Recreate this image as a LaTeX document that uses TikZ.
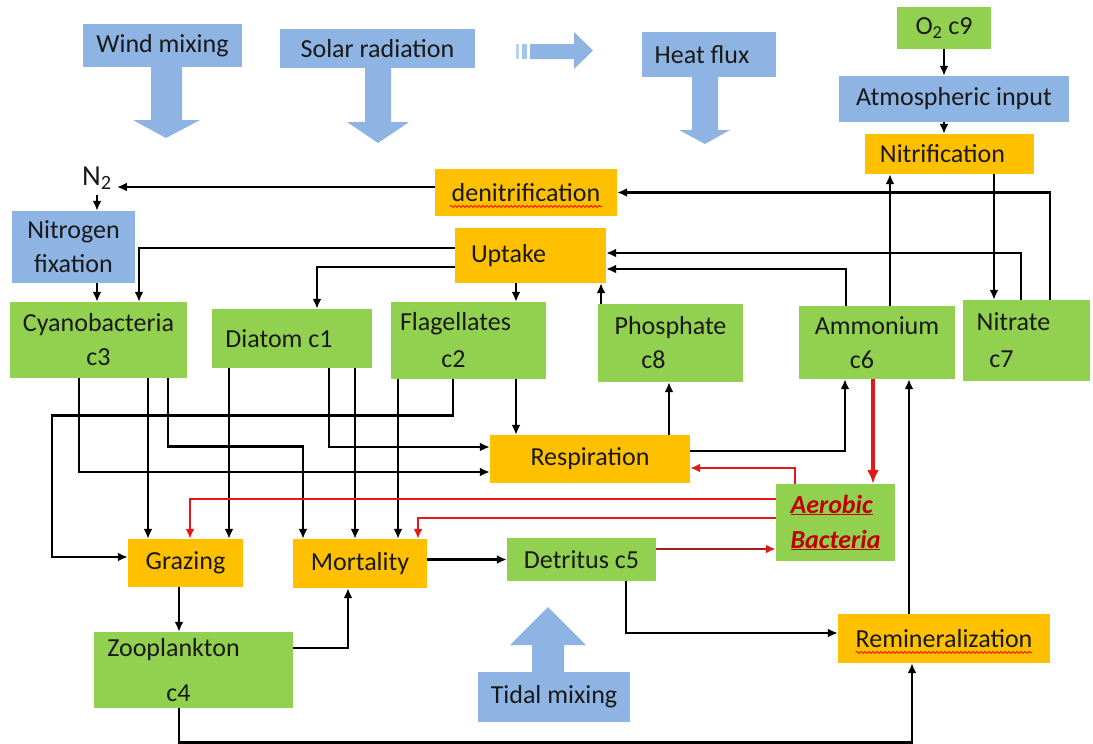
\documentclass[tikz,border=0pt]{standalone}
\usepackage{fontspec}
\setmainfont{Carlito}
\usetikzlibrary{arrows.meta, decorations.pathmorphing}
\definecolor{BoxGreen}{RGB}{146, 208, 80}
\definecolor{BoxOrange}{RGB}{255, 192, 0}
\definecolor{BoxBlue}{RGB}{142, 180, 227}
\definecolor{TextDark}{RGB}{25, 25, 25}
\definecolor{LinkRed}{RGB}{228, 24, 24}
\definecolor{LinkDarkRed}{RGB}{165, 30, 30}
\definecolor{BactRed}{RGB}{192, 0, 0}
\tikzset{
  comp/.style={rectangle, inner sep=2pt, align=center, text=TextDark,
    font=\fontsize{26}{34}\selectfont},
  pool/.style={comp, fill=BoxGreen},
  proc/.style={comp, fill=BoxOrange},
  forcing/.style={comp, fill=BoxBlue},
  flow/.style={-{Latex[length=10pt, width=9pt]}, line width=2.7pt, black},
  redflow/.style={-{Latex[length=10pt, width=9pt]}, line width=2.3pt, LinkRed},
  heavy/.style={-{Latex[length=14pt, width=12pt]}, line width=4pt, LinkRed},
  block/.style={fill=BoxBlue},
  squiggle/.style={draw=red, line width=0.8pt, decorate,
    decoration={snake, amplitude=1pt, segment length=4pt}},
}

\begin{document}
\begin{tikzpicture}[x=1pt, y=-1pt]
    \fill[white] (0,0) rectangle (1093,744);
    \useasboundingbox (0,0) rectangle (1093,744);

    \node[forcing, minimum width=159pt, minimum height=43pt] (wind) at (162.5,45.5) {Wind mixing};
    \node[forcing, minimum width=195pt, minimum height=39pt] (solar) at (377.5,48.5) {Solar radiation};
    \node[forcing, minimum width=134pt, minimum height=45pt] (heat) at (709,54.5) {Heat flux\hspace*{14pt}};
    \node[pool, minimum width=94pt, minimum height=42pt] (o2) at (944,28) {O\textsubscript{2} c9};
    \node[forcing, minimum width=230pt, minimum height=46pt] (atm) at (954,99) {Atmospheric input};
    \node[proc, minimum width=169pt, minimum height=40pt] (nitrif) at (949.5,154) {Nitrification\hspace*{14pt}};
    \node[proc, minimum width=182pt, minimum height=47pt] (denit) at (526,192.5) {denitrification};
    \node[comp, inner sep=5pt, font=\fontsize{29}{34}\selectfont] (n2) at (97,178) {N\textsubscript{2}};
    \node[forcing, minimum width=123pt, minimum height=72pt] (nfix) at (73.5,247) {Nitrogen\\fixation};
    \node[proc, minimum width=151pt, minimum height=55pt] (uptake) at (530.5,255.5) {Uptake\hspace*{44pt}};

    \node[pool, minimum width=177pt, minimum height=76pt] (cyano) at (98.5,340) {Cyanobacteria\\c3};
    \node[pool, minimum width=160pt, minimum height=59pt] (diatom) at (292,338.5) {Diatom c1\hspace*{26pt}};
    \node[pool, minimum width=155pt, minimum height=77pt, font=\fontsize{26}{37}\selectfont] (flag) at (468.5,340.5) {Flagellates\hspace*{26pt}\\c2\hspace*{30pt}};
    \node[pool, minimum width=145pt, minimum height=78pt] (phos) at (670.5,343) {Phosphate\\c8\hspace*{34pt}};
    \node[pool, minimum width=156pt, minimum height=73pt] (ammon) at (877,342.5) {Ammonium\\c6\hspace*{30pt}};
    \node[pool, minimum width=127pt, minimum height=81pt, font=\fontsize{26}{37}\selectfont] (nitrate) at (1026.5,340.5) {Nitrate\hspace*{26pt}\\c7\hspace*{50pt}};

    \node[proc, minimum width=200pt, minimum height=48pt] (resp) at (590,459) {Respiration};
    \node[pool, minimum width=119pt, minimum height=77pt, align=left, text=BactRed,
      font=\fontsize{26}{35}\selectfont\bfseries\itshape] (aerobic) at (835.5,522.5) {\underline{Aerobic}\\\underline{Bacteria}};
    \node[proc, minimum width=115pt, minimum height=48pt] (grazing) at (185.5,563) {Grazing};
    \node[proc, minimum width=134pt, minimum height=49pt] (mort) at (360,563.5) {Mortality};
    \node[pool, minimum width=149pt, minimum height=43pt] (detritus) at (581.5,559.5) {Detritus c5};
    \node[proc, minimum width=212pt, minimum height=49pt] (remin) at (944,638.5) {Remineralization};
    \node[pool, minimum width=199pt, minimum height=76pt, font=\fontsize{26}{45}\selectfont] (zoo) at (193.5,670) {Zooplankton\hspace*{40pt}\\c4\hspace*{30pt}};
    \node[forcing, minimum width=152pt, minimum height=50pt] (tidal) at (554,697) {Tidal mixing};

    \draw[squiggle] ([xshift=15pt, yshift=-5pt]denit.base west) -- ([xshift=-15pt, yshift=-5pt]denit.base east);
    \draw[squiggle] ([xshift=18pt, yshift=-5pt]remin.base west) -- ([xshift=-18pt, yshift=-5pt]remin.base east);

    \fill[block] (151,67) -- (182,67) -- (182,120) -- (200,120) -- (166,138) -- (133,120) -- (151,120) -- cycle;
    \fill[block] (365,68) -- (391,68) -- (391,122) -- (409,122) -- (378,143) -- (347,122) -- (365,122) -- cycle;
    \fill[block] (692,77) -- (718,77) -- (718,130) -- (730,130) -- (705,144) -- (679,130) -- (692,130) -- cycle;
    \fill[block] (532,672) -- (564,672) -- (564,645) -- (586,645) -- (548,607) -- (510,645) -- (532,645) -- cycle;
    \fill[BoxBlue!60] (516,44) rectangle (519,59);
    \fill[BoxBlue!80] (522,44) rectangle (527,59);
    \fill[block] (530,44) -- (574,44) -- (574,32) -- (593,50.5) -- (574,69) -- (574,59) -- (530,59) -- cycle;

    \draw[flow] ([yshift=5.5pt]denit.west) -- ([yshift=5.5pt]denit.west -| n2.east);
    \draw[flow] (n2.south) -- (n2.south |- nfix.north);
    \draw[flow] ([xshift=23.5pt]nfix.south) -- ([xshift=23.5pt]nfix.south |- cyano.north);
    \draw[flow] ([yshift=7.5pt]uptake.west) -| ([xshift=40.5pt]cyano.north);
    \draw[flow] ([yshift=-11.5pt]uptake.west) -| ([xshift=25pt]diatom.north);
    \draw[flow] ([xshift=-14.5pt]uptake.south) -- ([xshift=-14.5pt]uptake.south |- flag.north);
    \draw[flow] ([xshift=-69.5pt]phos.north) -- ([xshift=-69.5pt]phos.north |- uptake.south);
    \draw[flow] ([xshift=-31pt]ammon.north) |- ([yshift=-13.5pt]uptake.east);
    \draw[flow] ([xshift=-5.5pt]nitrate.north) |- ([yshift=2.5pt]uptake.east);
    \draw[flow] ([xshift=13pt]ammon.north) -- ([xshift=13pt]ammon.north |- nitrif.south);
    \draw[flow] ([xshift=44.5pt]nitrif.south) -- ([xshift=44.5pt]nitrif.south |- nitrate.north);
    \draw[flow] ([xshift=23.5pt]nitrate.north) |- (denit.east);
    \draw[flow] (o2.south) -- (o2.south |- atm.north);
    \draw[flow] (o2.south |- atm.south) -- (o2.south |- nitrif.north);

    \draw[flow] ([xshift=-19.5pt]cyano.south) |- ([yshift=-13pt]resp.west);
    \draw[flow] ([xshift=49.5pt]cyano.south) -- ([xshift=49.5pt]cyano.south |- grazing.north);
    \draw[flow] ([xshift=69.5pt]cyano.south) -- ++(0,68) -| ([xshift=-57pt]mort.north);
    \draw[flow] ([xshift=-15.5pt]flag.south) -- ++(0,36) -- ++(-401,0) |- ([yshift=6pt]grazing.west);
    \draw[flow] ([xshift=-63pt]diatom.south) -- ([xshift=-63pt]diatom.south |- grazing.north);
    \draw[flow] ([xshift=37pt]diatom.south) |- ([yshift=12pt]resp.west);
    \draw[flow] ([xshift=63pt]diatom.south) -- ([xshift=63pt]diatom.south |- mort.north);
    \draw[flow] ([xshift=-70.5pt]flag.south) -- ([xshift=-70.5pt]flag.south |- mort.north);
    \draw[flow] ([xshift=47.5pt]flag.south) -- ([xshift=47.5pt]flag.south |- resp.north);
    \draw[flow] ([xshift=79pt]resp.north) -- ([xshift=79pt]resp.north |- phos.south);
    \draw[flow] ([yshift=8pt]resp.east) -| ([xshift=-32pt]ammon.south);

    \draw[heavy] ([xshift=-4pt]ammon.south) -- ([xshift=-4pt]ammon.south |- aerobic.north);
    \draw[redflow] ([xshift=-40.5pt]aerobic.north) |- ([yshift=-9pt]resp.east);
    \draw[redflow] ([yshift=23.5pt]aerobic.west) -| ([xshift=4.5pt]grazing.north);
    \draw[redflow] ([yshift=4.5pt]aerobic.west) -| ([xshift=58pt]mort.north);
    \draw[-{Latex[length=10pt, width=9pt, color=LinkRed]}, line width=2.3pt, LinkDarkRed]
      ([yshift=10.5pt]detritus.east) -- ([yshift=10.5pt]detritus.east -| aerobic.west);

    \draw[flow] ([yshift=4pt]mort.east) -- ([yshift=4pt]mort.east -| detritus.west);
    \draw[flow] ([xshift=-6.5pt]grazing.south) -- ([xshift=-6.5pt]grazing.south |- zoo.north);
    \draw[flow] ([yshift=22pt]zoo.east) -| ([xshift=-12pt]mort.south);
    \draw[flow] ([xshift=-14.5pt]zoo.south) -- ++(0,34) -| ([xshift=-32pt]remin.south);
    \draw[flow] ([xshift=44.5pt]detritus.south) |- ([yshift=5.5pt]remin.west);
    \draw[flow] ([xshift=-35pt]remin.north) -- ([xshift=-35pt]remin.north |- ammon.south);
\end{tikzpicture}
\end{document}
